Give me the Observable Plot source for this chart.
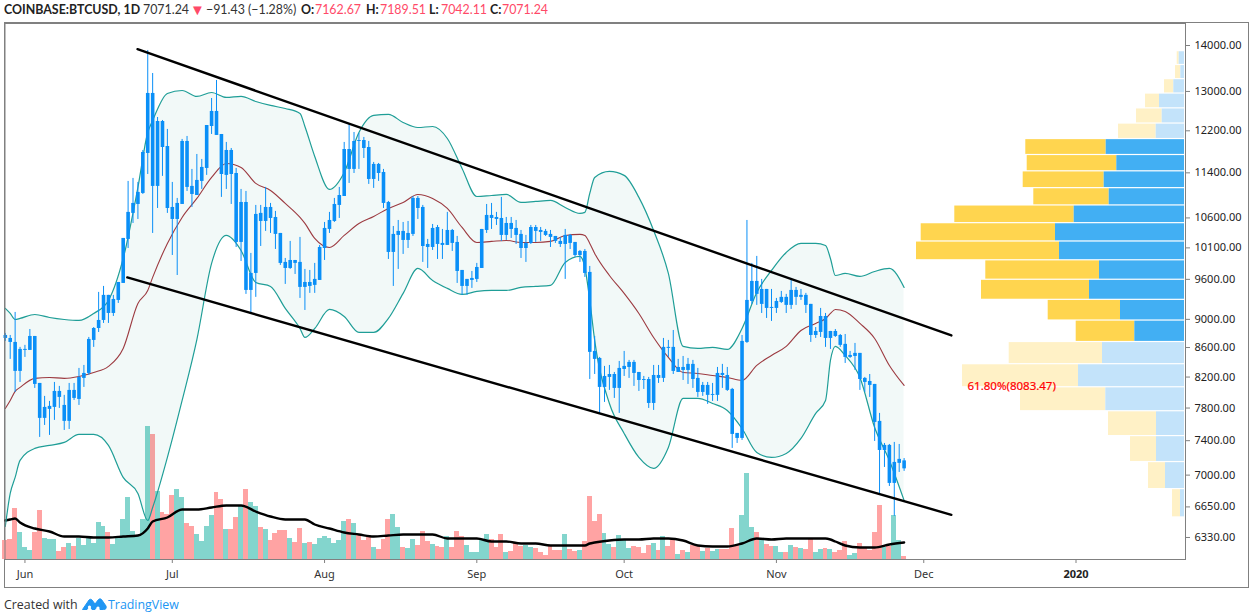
<!DOCTYPE html>
<html><head><meta charset="utf-8">
<script src="https://cdn.jsdelivr.net/npm/d3@7"></script>
<script src="https://cdn.jsdelivr.net/npm/@observablehq/plot@0.6"></script>
<style>
html,body{margin:0;padding:0;background:#fff}
#chart{position:relative;width:1252px;height:616px;overflow:hidden}
#chart svg.layer{position:absolute;left:0;top:0}
#box{position:absolute;left:4px;top:22px;width:1243px;height:564px;border:1px solid #808080;box-sizing:content-box}
#head{position:absolute;left:0;top:0;height:21px;width:600px;font:12.4px Lato,sans-serif;color:#333;white-space:pre}
#head span{position:absolute;top:2px;line-height:16px}
#head b{position:absolute;top:2px;line-height:16px;font-weight:700;color:#222}
#head .r{color:#ff4a68}
#foot{position:absolute;left:4px;top:596px;height:18px;width:300px;font:12.4px "Open Sans",sans-serif;color:#333;white-space:pre}
#foot span{position:absolute;top:0;line-height:18px}
#foot svg{position:absolute;left:76px;top:0}
</style></head><body>
<div id="chart">
<div id="box"></div>
<div id="head"><b style="left:4px">COINBASE:BTCUSD, 1D</b><span style="left:143px">7071.24</span><span class="r" style="left:190px;font-size:15px;top:1px">▼</span><span style="left:206px">−91.43</span><span style="left:248px">(−1.28%)</span><b style="left:301px">O:</b><span class="r" style="left:315px">7162.67</span><b style="left:366px">H:</b><span class="r" style="left:380px">7189.51</span><b style="left:429px">L:</b><span class="r" style="left:441px">7042.11</span><b style="left:490px">C:</b><span class="r" style="left:502px">7071.24</span></div>
<div id="foot"><span style="left:0">Created with</span><svg width="28" height="16" viewBox="0 0 28 16"><path d="M2.5 13.5 L9 4 Q10.5 2.5 12 4 L15 8 L18.5 3.5 Q20 2 21.5 3.5 L26 10 Q27 13.5 23.5 13.5 L20 13.5 L18 10 L15 13.5 L12 13.5 L9.5 9.5 L7 13.5 Z" fill="#2196f3" stroke="#2196f3" stroke-linejoin="round"/><circle cx="9.5" cy="11" r="1.6" fill="#fff"/><circle cx="18" cy="12" r="1.6" fill="#fff"/></svg><span style="left:104px;color:#2196f3">TradingView</span></div>
</div>
<script>
const firstDay = "2019-05-28";
const open = [8769,8727,8671,8275,8560,8560,8755,8116,7671,7783,
7808,8012,7833,7634,8025,7909,8182,8248,8699,8868,
8984,9355,9086,9279,9537,10239,10678,10833,11027,11762,
12958,11153,12385,11895,10781,10574,10833,11992,11153,10991,
11243,11481,12285,12587,12128,11353,11819,11388,10189,10868,
9430,9692,10678,10540,10781,10608,10338,9866,9770,9897,
9866,9476,9552,9507,9583,10090,10405,10540,10816,10973,
11838,11463,12011,12011,11876,11279,11556,11407,10868,10026,
10305,10372,10222,10322,10939,10781,10156,10107,10438,10173,
10140,10388,10189,9739,9491,9583,9599,9770,10388,10643,
10608,10591,10305,10506,10422,10322,10090,10173,10438,10388,
10372,10322,10288,10206,10156,10305,10189,9977,10042,9708,
8546,8450,8064,8195,8234,8051,8301,8328,8396,8261,
8168,8168,7858,8221,8182,8602,8602,8261,8328,8288,
8369,8182,7999,8090,7961,7961,8248,8221,8038,7487,
7427,8671,9264,9568,9220,9445,9175,9160,9249,9325,
9205,9430,9325,9355,9220,8769,8812,9042,8727,8826,
8769,8644,8464,8477,8519,8182,8142,8103,7634,7284,
7344,6907,7134,7162.67];
const close = [8727,8671,8275,8574,8574,8755,8103,7671,7808,7821,
8012,7935,7634,8025,7922,8195,8248,8713,8868,8984,
9355,9086,9294,9552,10255,10695,10851,11045,11781,12958,
11153,12385,11876,10763,10574,10851,11992,11135,11009,11261,
11500,12305,12587,12109,11370,11819,11370,10189,10868,9430,
9692,10660,10540,10781,10591,10322,9850,9770,9897,9850,
9476,9552,9491,9599,10107,10422,10557,10833,10991,11838,
11463,11992,11992,11857,11279,11556,11388,10851,10026,10322,
10372,10222,10338,10939,10763,10123,10107,10422,10156,10140,
10388,10173,9723,9491,9599,9614,9786,10405,10643,10591,
10574,10305,10506,10405,10305,10090,10173,10438,10372,10355,
10305,10272,10206,10156,10305,10173,9977,10042,9692,8533,
8437,8064,8208,8234,8051,8315,8342,8396,8248,8155,
8155,7858,8221,8182,8602,8588,8275,8328,8288,8369,
8168,7999,8090,7961,7973,8248,8221,8025,7475,7427,
8685,9279,9568,9370,9445,9160,9160,9264,9325,9205,
9430,9325,9355,9205,8769,8826,9042,8727,8826,8755,
8630,8464,8491,8519,8168,8129,8090,7621,7284,7344,
6907,7145,7180,7071.24];
const high = [8798,8769,9101,8602,8630,8854,8755,8116,7948,7884,
8129,8077,7961,8116,8116,8315,8355,8741,8882,9400,
9491,9355,9355,9552,10255,11243,11298,11225,11819,13888,
13382,12465,12405,12227,11225,10939,12031,12089,11463,11743,
11649,12305,12853,13232,12128,11973,11857,11481,11099,11063,
10010,10816,10816,11135,10851,10712,10338,9929,10206,9897,
10272,9755,9739,9850,10140,10523,10695,10939,11135,11973,
12345,12167,12148,12070,11992,11593,11574,11463,10886,10455,
10557,10523,10540,10973,10973,10816,10239,10489,10472,10405,
10695,10405,10288,9739,9599,9723,9850,10405,10833,10851,
10695,10957,10608,10608,10557,10388,10305,10472,10472,10438,
10405,10388,10288,10272,10405,10322,10189,10058,10074,9802,
8755,8464,8342,8355,8261,8409,8546,8423,8423,8261,
8208,8195,8355,8355,8727,8699,8840,8437,8477,8450,
8423,8315,8129,8129,8116,8328,8369,8328,8051,7487,
8769,10557,9850,9962,9599,9445,9445,9309,9415,9370,
9614,9476,9445,9385,9220,8882,9160,9086,8826,8854,
8783,8783,8546,8657,8519,8195,8234,8103,7733,7367,
7355,7379,7355,7189.51];
const low = [8685,8437,7999,8129,8464,8560,8051,7439,7584,7463,
7646,7795,7523,7535,7896,7833,8064,8221,8602,8811,
8941,8941,9042,9234,9537,10090,10506,10574,11009,11370,
10338,10763,11335,10678,9977,9660,10833,11063,10781,10991,
11099,11353,12128,12109,10957,11099,10833,10107,9881,9370,
9086,9325,10123,10372,10338,10074,9818,9522,9755,9676,
9309,9130,9385,9385,9583,9897,10338,10523,10591,10973,
11207,11388,11463,11667,11189,11117,11243,10763,9913,9491,
9755,9994,10090,10288,10574,9866,9770,10058,9913,9913,
10140,10042,9537,9355,9355,9461,9552,9770,10338,10405,
10472,10206,10222,10255,10156,9929,9866,10156,10189,10206,
10288,10107,10173,10107,9599,10074,9945,9866,9630,8168,
8234,7733,7871,8025,7922,7733,8208,8182,8077,8012,
8038,7795,7770,8116,8129,8464,8234,8261,8155,8103,
8051,7935,7948,7846,7884,7884,8051,8012,7308,7367,
7403,8657,9220,9205,9086,9013,8970,9086,9234,9086,
9145,9205,9279,9086,8671,8727,8741,8602,8574,8741,
8602,8382,8450,8288,8025,7999,7935,7391,6796,7087,
6873,6549,7030,7042.11];
const volume = [9500,10000,25500,13500,6000,4500,13500,24500,10500,10000,
10000,4000,6000,8000,6500,10500,7000,10500,8000,18500,
16500,13500,7500,11000,20000,31000,14000,12000,20000,66500,
62500,34000,23500,22500,32000,35000,31000,18000,16500,12500,
9000,16500,22000,33500,30000,15000,15000,21000,27000,35000,
28500,26500,16000,15000,9500,13000,14500,14500,10500,8500,
15500,8000,8500,7500,10500,11500,10500,8000,9500,19000,
20000,18000,12000,9500,11000,6000,5000,10000,20000,22500,
16000,6000,5500,10000,7000,14000,9000,7500,6500,6000,
11500,6000,14000,11500,7000,3500,3500,9500,12500,10000,
6000,12500,3500,4000,8000,6500,7000,6000,5500,3500,
2000,7000,4500,4500,12500,5000,4000,4500,9000,31500,
19000,22500,13000,7500,6000,12000,9500,5500,6500,6000,
3000,7000,8000,4500,11500,6500,10000,2500,4500,3500,
7000,7000,4000,5500,4000,5000,5000,5000,15500,7000,
22000,43000,16000,13500,10000,7500,6500,6500,3500,3500,
7000,6000,5500,5000,10000,3500,5000,5500,5000,3500,
4500,9000,2000,3000,8000,5500,4500,13500,27000,6000,
6500,22000,9500,1500];
// Bollinger bands and volume average, read on these days after the first day
const bandDays = [0,1,2,3,6,9,12,15,18,21,24,27,29,30,33,36,39,42,45,48,51,54,57,60,61,63,66,69,72,75,78,81,84,87,90,93,96,99,102,105,108,111,114,117,118,119,120,123,126,129,132,135,138,141,144,147,150,153,156,159,162,165,167,168,169,171,174,177,180,183];
const bbUpper = [9160,9086,8998,9013,9071,9027,8998,8984,9086,9279,9929,11135,12167,12405,12958,13020,12895,12978,12874,12895,12791,12710,12647,12547,12285,11706,11099,11407,12167,12506,12526,12365,12265,12285,12050,11481,10973,10991,11009,10868,10886,10903,10781,10678,10695,11027,11316,11426,11353,10957,10388,9692,8616,8588,8602,8574,8868,9400,9739,10026,10173,10173,10140,9929,9660,9692,9645,9723,9770,9476];
const bbMiddle = [7795,7896,8012,8064,8182,8195,8182,8208,8261,8342,8588,9234,9430,9630,10173,10608,10939,11316,11574,11500,11207,11081,10851,10608,10506,10255,10107,10305,10506,10626,10763,10868,11009,10939,10763,10438,10189,10206,10222,10189,10189,10206,10305,10322,10305,10173,10010,9660,9385,9086,8741,8464,8261,8248,8221,8195,8155,8355,8491,8616,8840,8941,9013,9086,9145,9115,8941,8727,8355,8090];
const bbLower = [6445,6796,6974,7168,7308,7344,7379,7475,7475,7344,6974,6796,6506,6644,7203,7896,8712,9850,10305,10058,9552,9491,9160,8868,8741,8868,9145,9042,8812,8812,9013,9385,9770,9583,9461,9370,9415,9430,9430,9476,9491,9507,9866,9962,9786,9279,8699,7858,7487,7203,7076,7320,7922,7922,7858,7770,7547,7261,7203,7249,7427,7733,7896,8423,8616,8491,8195,7559,7168,6720];
const volumeAvg = [19500,20000,20500,18500,15500,14000,11500,11500,11000,11000,11500,12000,15500,19000,21000,25000,25000,26000,27000,27000,24000,21500,20000,20000,20000,17500,15500,13500,12500,11500,12000,12500,12500,12500,10500,10500,10500,9000,9000,8000,8000,7000,7000,7000,7000,8000,8500,9500,10000,10000,10500,10500,9500,7000,6500,6500,8000,10500,10000,10500,10500,10500,10500,10000,9000,7000,6000,6000,7500,8500];
// Trend channel
const upperTrendTime = ["2019-06-23T22:00Z","2019-12-06T15:00Z"], upperTrendPrice = [13917,8769];
const lowerTrendTime = ["2019-06-21T20:00Z","2019-12-06T15:00Z"], lowerTrendPrice = [9630,6566];
// Visible-range volume profile, lowest row first
const rowEdges = [6538,6844,7149,7455,7760,8066,8372,8677,8983,9288,9594,9900,10205,10511,10816,11122,11428,11733,12039,12344,12650,12956,13261,13567,13873];
const rowUp = [400,1900,2800,2800,7870,10600,8200,4970,6400,9500,8500,12500,12900,11030,7530,8030,6770,7830,2830,2230,2500,1070,370,530];
const rowDown = [800,1700,2600,4800,8530,11600,9330,5860,7230,10800,11370,14300,13430,11940,7540,8100,8960,8040,3770,2570,1400,930,530,200];
const rowInValueArea = [0,0,0,0,0,0,0,1,1,1,1,1,1,1,1,1,1,1,0,0,0,0,0,0];
const fibLabel = "61.80%(8083.47)", fibPrice = 8083.47, fibRow = 5;
const priceTicks = [14000,13000,12200,11400,10600,10100,9600,9000,8600,8200,7800,7400,7000,6650,6330];
const timeTicks = ["2019-06-01","2019-07-01","2019-08-01","2019-09-01","2019-10-01","2019-11-01","2019-12-01"];
const timeLabels = ["Jun","Jul","Aug","Sep","Oct","Nov","Dec"];
const yearTick = "2020-01-01", yearLabel = "2020";

const W = 1252, H = 616;
const m = {marginTop:23, marginBottom:57, marginLeft:4.5, marginRight:67};
const xDomain = [new Date("2019-05-27T22:30Z"), new Date("2020-01-23T07:00Z")];
const layerStyle = {background:"transparent", overflow:"visible", fontFamily:"'Noto Sans',sans-serif", fontSize:"11px"};
const start = new Date(firstDay + "T00:00Z");
const day = i => d3.utcDay.offset(start, i);
const candles = close.map((c,i)=>({t:day(i), o:open[i], h:high[i], l:low[i], c, v:volume[i]}));
const bands = bandDays.map((n,k)=>({t:day(n), u:bbUpper[k], m:bbMiddle[k], l:bbLower[k], a:volumeAvg[k]}));
const trend = (ts,ps)=>ts.map((t,i)=>({t:new Date(t), p:ps[i]}));
const rows = rowUp.map((u,i)=>({lo:rowEdges[i], hi:rowEdges[i+1], u, d:rowDown[i], total:u+rowDown[i], va:!!rowInValueArea[i]}));
const halfDay = 12*3600e3;

const volumePlot = Plot.plot({width:W,height:H,...m,style:layerStyle,
  x:{type:"utc",domain:xDomain,axis:null},
  y:{domain:[0,268000],axis:null},
  marks:[
    Plot.rect(candles,{x1:d=>new Date(+d.t-halfDay),x2:d=>new Date(+d.t+halfDay),y1:0,y2:"v",
      fill:d=>d.c>=d.o?"#83d5cd":"#ffa3a3",shapeRendering:"crispEdges"}),
    Plot.line(bands,{x:"t",y:"a",stroke:"#000",strokeWidth:2.4,curve:"monotone-x"})
  ]});

const profilePlot = Plot.plot({width:W,height:H,...m,marginRight:68,style:layerStyle,
  x:{domain:[117950,0],axis:null},
  y:{type:"log",domain:[6109,14506],axis:null},
  marks:[
    Plot.rect(rows,{x1:"u",x2:d=>d.u+d.d,y1:"lo",y2:"hi",insetBottom:.6,insetTop:.6,fill:d=>d.va?"#ffd54f":"#fff1c6"}),
    Plot.rect(rows,{x1:0,x2:"u",y1:"lo",y2:"hi",insetBottom:.6,insetTop:.6,fill:d=>d.va?"#42aff3":"#c3e3fa"}),
    Plot.text([fibLabel],{x:rows[fibRow].total,y:fibPrice,dx:5,text:d=>d,textAnchor:"start",fill:"#ff0000",fontSize:11.5,stroke:"#ff0000",strokeWidth:.2})
  ]});

const mainPlot = Plot.plot({width:W,height:H,...m,style:layerStyle,
  x:{type:"utc",domain:xDomain},
  y:{type:"log",domain:[6109,14506]},
  marks:[
    Plot.areaY(bands,{x:"t",y1:"l",y2:"u",fill:"#00897b",fillOpacity:.05,curve:"monotone-x"}),
    Plot.line(bands,{x:"t",y:"u",stroke:"#1f9e97",strokeWidth:1.2,curve:"monotone-x"}),
    Plot.line(bands,{x:"t",y:"l",stroke:"#1f9e97",strokeWidth:1.2,curve:"monotone-x"}),
    Plot.line(bands,{x:"t",y:"m",stroke:"#9c3a40",strokeWidth:1.1,curve:"monotone-x"}),
    Plot.ruleX(candles,{x:"t",y1:"l",y2:"h",stroke:"#0a8ff7",strokeWidth:1}),
    Plot.ruleX(candles,{x:"t",y1:"o",y2:"c",stroke:"#0a8ff7",strokeWidth:3.6}),
    Plot.line(trend(upperTrendTime,upperTrendPrice),{x:"t",y:"p",stroke:"#000",strokeWidth:2.4}),
    Plot.line(trend(lowerTrendTime,lowerTrendPrice),{x:"t",y:"p",stroke:"#000",strokeWidth:2.4}),
    Plot.axisY({anchor:"right",ticks:priceTicks,tickFormat:d=>d.toFixed(2),tickSize:4,tickPadding:5,label:null,stroke:"#808080",fill:"#222",fontSize:11}),
    Plot.axisX({ticks:timeTicks.map(d=>new Date(d+"T00:00Z")),tickFormat:d=>timeLabels[timeTicks.indexOf(d.toISOString().slice(0,10))],tickSize:4,tickPadding:7,label:null,stroke:"#808080",fill:"#333",fontSize:11}),
    Plot.axisX({ticks:[new Date(yearTick+"T00:00Z")],tickFormat:()=>yearLabel,tickSize:4,tickPadding:7,label:null,stroke:"#808080",fill:"#222",fontSize:11,fontWeight:"bold"}),
    Plot.frame({stroke:"#808080",strokeWidth:1})
  ]});

const host = document.getElementById("chart");
for (const p of [volumePlot, profilePlot, mainPlot]) { p.classList.add("layer"); host.appendChild(p); }
</script>
</body></html>
